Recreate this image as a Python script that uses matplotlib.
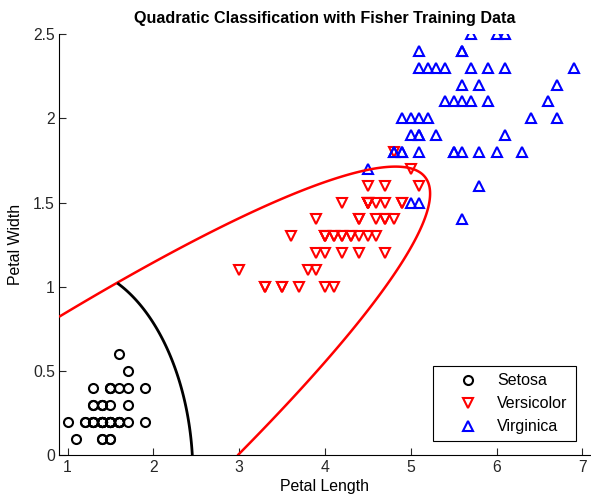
import numpy as np
import matplotlib
matplotlib.use('Agg')
import matplotlib.pyplot as plt

plt.rcParams['font.family'] = ['Liberation Sans', 'DejaVu Sans']

# Fisher iris petal measurements (cm)
setosa_len = [1.4, 1.4, 1.3, 1.5, 1.4, 1.7, 1.4, 1.5, 1.4, 1.5,
              1.5, 1.6, 1.4, 1.1, 1.2, 1.5, 1.3, 1.4, 1.7, 1.5,
              1.7, 1.5, 1.0, 1.7, 1.9, 1.6, 1.6, 1.5, 1.4, 1.6,
              1.6, 1.5, 1.5, 1.4, 1.5, 1.2, 1.3, 1.4, 1.3, 1.5,
              1.3, 1.3, 1.3, 1.6, 1.9, 1.4, 1.6, 1.4, 1.5, 1.4]
setosa_wid = [0.2, 0.2, 0.2, 0.2, 0.2, 0.4, 0.3, 0.2, 0.2, 0.1,
              0.2, 0.2, 0.1, 0.1, 0.2, 0.4, 0.4, 0.3, 0.3, 0.3,
              0.2, 0.4, 0.2, 0.5, 0.2, 0.2, 0.4, 0.2, 0.2, 0.2,
              0.2, 0.4, 0.1, 0.2, 0.2, 0.2, 0.2, 0.1, 0.2, 0.2,
              0.3, 0.3, 0.2, 0.6, 0.4, 0.3, 0.2, 0.2, 0.2, 0.2]
versi_len = [4.7, 4.5, 4.9, 4.0, 4.6, 4.5, 4.7, 3.3, 4.6, 3.9,
             3.5, 4.2, 4.0, 4.7, 3.6, 4.4, 4.5, 4.1, 4.5, 3.9,
             4.8, 4.0, 4.9, 4.7, 4.3, 4.4, 4.8, 5.0, 4.5, 3.5,
             3.8, 3.7, 3.9, 5.1, 4.5, 4.5, 4.7, 4.4, 4.1, 4.0,
             4.4, 4.6, 4.0, 3.3, 4.2, 4.2, 4.2, 4.3, 3.0, 4.1]
versi_wid = [1.4, 1.5, 1.5, 1.3, 1.5, 1.3, 1.6, 1.0, 1.3, 1.4,
             1.0, 1.5, 1.0, 1.4, 1.3, 1.4, 1.5, 1.0, 1.5, 1.1,
             1.8, 1.3, 1.5, 1.2, 1.3, 1.4, 1.4, 1.7, 1.5, 1.0,
             1.1, 1.0, 1.2, 1.6, 1.5, 1.6, 1.5, 1.3, 1.3, 1.3,
             1.2, 1.4, 1.2, 1.0, 1.3, 1.2, 1.3, 1.3, 1.1, 1.3]
virg_len = [6.0, 5.1, 5.9, 5.6, 5.8, 6.6, 4.5, 6.3, 5.8, 6.1,
            5.1, 5.3, 5.5, 5.0, 5.1, 5.3, 5.5, 6.7, 6.9, 5.0,
            5.7, 4.9, 6.7, 4.9, 5.7, 6.0, 4.8, 4.9, 5.6, 5.8,
            6.1, 6.4, 5.6, 5.1, 5.6, 6.1, 5.6, 5.5, 4.8, 5.4,
            5.6, 5.1, 5.1, 5.9, 5.7, 5.2, 5.0, 5.2, 5.4, 5.1]
virg_wid = [2.5, 1.9, 2.1, 1.8, 2.2, 2.1, 1.7, 1.8, 1.8, 2.5,
            2.0, 1.9, 2.1, 2.0, 2.4, 2.3, 1.8, 2.2, 2.3, 1.5,
            2.3, 2.0, 2.0, 1.8, 2.1, 1.8, 1.8, 1.8, 2.1, 1.6,
            1.9, 2.0, 2.2, 1.5, 1.4, 2.3, 2.4, 1.8, 1.8, 2.1,
            2.4, 2.3, 1.9, 2.3, 2.5, 2.3, 1.9, 2.0, 2.3, 1.8]

labels = ['Setosa', 'Versicolor', 'Virginica']


def qda_score(X, Y, pl, pw):
    # log posterior (up to a constant) for one class, gaussian with own covariance
    pts = np.column_stack([pl, pw])
    mu = pts.mean(axis=0)
    S = np.cov(pts, rowvar=False)
    Si = np.linalg.inv(S)
    dx = X - mu[0]
    dy = Y - mu[1]
    m = Si[0, 0]*dx*dx + 2*Si[0, 1]*dx*dy + Si[1, 1]*dy*dy
    return -0.5*np.log(np.linalg.det(S)) - 0.5*m


fig = plt.figure(figsize=(5.91, 4.99), dpi=100)
ax = fig.add_axes([0.0998, 0.0872, 0.900, 0.8447])

mk = dict(ls='none', mfc='none', ms=6.5, mew=1.5)
ax.plot(setosa_len, setosa_wid, 'o', mec='k', label=labels[0], **mk)
ax.plot(versi_len, versi_wid, 'v', mec='r', label=labels[1], **mk)
ax.plot(virg_len, virg_wid, '^', mec='b', label=labels[2], **mk)

gx = np.linspace(0.9, 7.1, 900)
gy = np.linspace(0, 2.5, 700)
X, Y = np.meshgrid(gx, gy)
s1 = qda_score(X, Y, setosa_len, setosa_wid)
s2 = qda_score(X, Y, versi_len, versi_wid)
s3 = qda_score(X, Y, virg_len, virg_wid)

ax.contour(X, Y, s2 - s3, levels=[0], colors='red', linewidths=1.8, zorder=3)
d12 = np.where(s3 > s2, np.nan, s1 - s2)
ax.contour(X, Y, d12, levels=[0], colors='black', linewidths=2, zorder=3)

ax.set_xlim(0.9, 7.1)
ax.set_ylim(0, 2.5)
ax.set_xticks([1, 2, 3, 4, 5, 6, 7])
ax.set_yticks([0, 0.5, 1, 1.5, 2, 2.5])
ax.set_yticklabels(['0', '0.5', '1', '1.5', '2', '2.5'])
ax.spines['top'].set_visible(False)
ax.spines['right'].set_visible(False)
ax.tick_params(direction='in', length=5, labelsize=11.3, pad=3, colors='#262626')
ax.set_title('Quadratic Classification with Fisher Training Data',
             fontsize=11.6, fontweight='bold', pad=8)
ax.set_xlabel('Petal Length', fontsize=11.4, labelpad=3)
ax.set_ylabel('Petal Width', fontsize=11.4, labelpad=7)

leg = ax.legend(loc='upper left',
                bbox_to_anchor=(0.7327, 0.2665 - 74/499, 143/591, 74/499),
                bbox_transform=fig.transFigure, borderaxespad=0, mode='expand',
                fancybox=False, edgecolor='k', framealpha=1, fontsize=11.5,
                handlelength=3.5, handletextpad=0.05, labelspacing=0.5,
                borderpad=0.45)
leg.get_frame().set_linewidth(0.8)

fig.savefig('out.png', dpi=100)
